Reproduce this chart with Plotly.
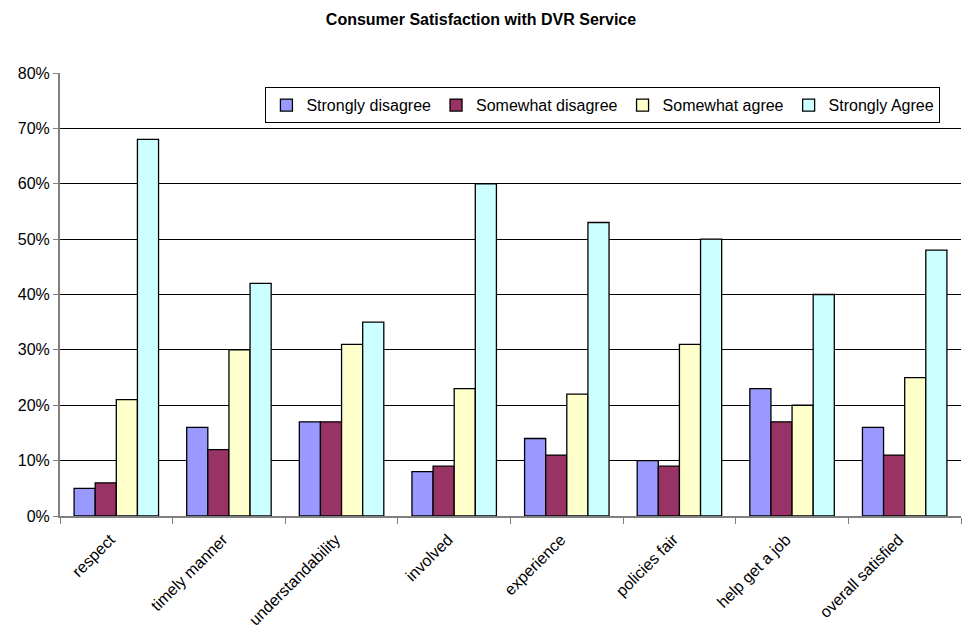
import plotly.graph_objects as go

categories = ["respect", "timely manner", "understandability", "involved",
              "experience", "policies fair", "help get a job", "overall satisfied"]
strongly_disagree = [5, 16, 17, 8, 14, 10, 23, 16]
somewhat_disagree = [6, 12, 17, 9, 11, 9, 17, 11]
somewhat_agree = [21, 30, 31, 23, 22, 31, 20, 25]
strongly_agree = [68, 42, 35, 60, 53, 50, 40, 48]

series = [
    ("Strongly disagree", strongly_disagree, "#9999FF"),
    ("Somewhat disagree", somewhat_disagree, "#993366"),
    ("Somewhat agree", somewhat_agree, "#FFFFCC"),
    ("Strongly Agree", strongly_agree, "#CCFFFF"),
]

fig = go.Figure()
for name, vals, color in series:
    fig.add_trace(go.Bar(
        x=categories,
        y=[v / 100 for v in vals],
        name=name,
        marker=dict(color=color, line=dict(color="#000000", width=1.3)),
    ))

fig.update_layout(
    width=962, height=642,
    margin=dict(l=60, r=1, t=73, b=126),
    paper_bgcolor="white", plot_bgcolor="white",
    font=dict(family="Arial, Liberation Sans, sans-serif", size=16, color="#000000"),
    title=dict(text="<b>Consumer Satisfaction with DVR Service</b>",
               x=0.5, xanchor="center", y=0.97, yanchor="middle",
               font=dict(size=16)),
    barmode="group",
    bargap=0.25,
    bargroupgap=0,
    showlegend=True,
    legend=dict(
        orientation="h",
        x=0.228, xanchor="left",
        y=0.968, yanchor="top",
        bgcolor="white",
        bordercolor="#000000", borderwidth=1,
        font=dict(size=16),
        itemwidth=30,
        tracegroupgap=0,
    ),
    xaxis=dict(
        showline=True, linecolor="#808080", linewidth=2,
        ticks="outside", tickson="boundaries", ticklen=6, tickcolor="#808080",
        tickangle=-45, showgrid=False, automargin=False,
        ticklabelstandoff=6, ticklabelshift=-6,
        tickfont=dict(size=16),
    ),
    yaxis=dict(
        range=[0, 0.8], dtick=0.1, tickformat=".0%",
        showline=True, linecolor="#808080", linewidth=2,
        ticks="outside", ticklen=5, tickcolor="#808080",
        showgrid=True, gridcolor="#000000", gridwidth=1,
        zeroline=False, automargin=False,
        tickfont=dict(size=16),
    ),
)

fig.write_html("out.html")
